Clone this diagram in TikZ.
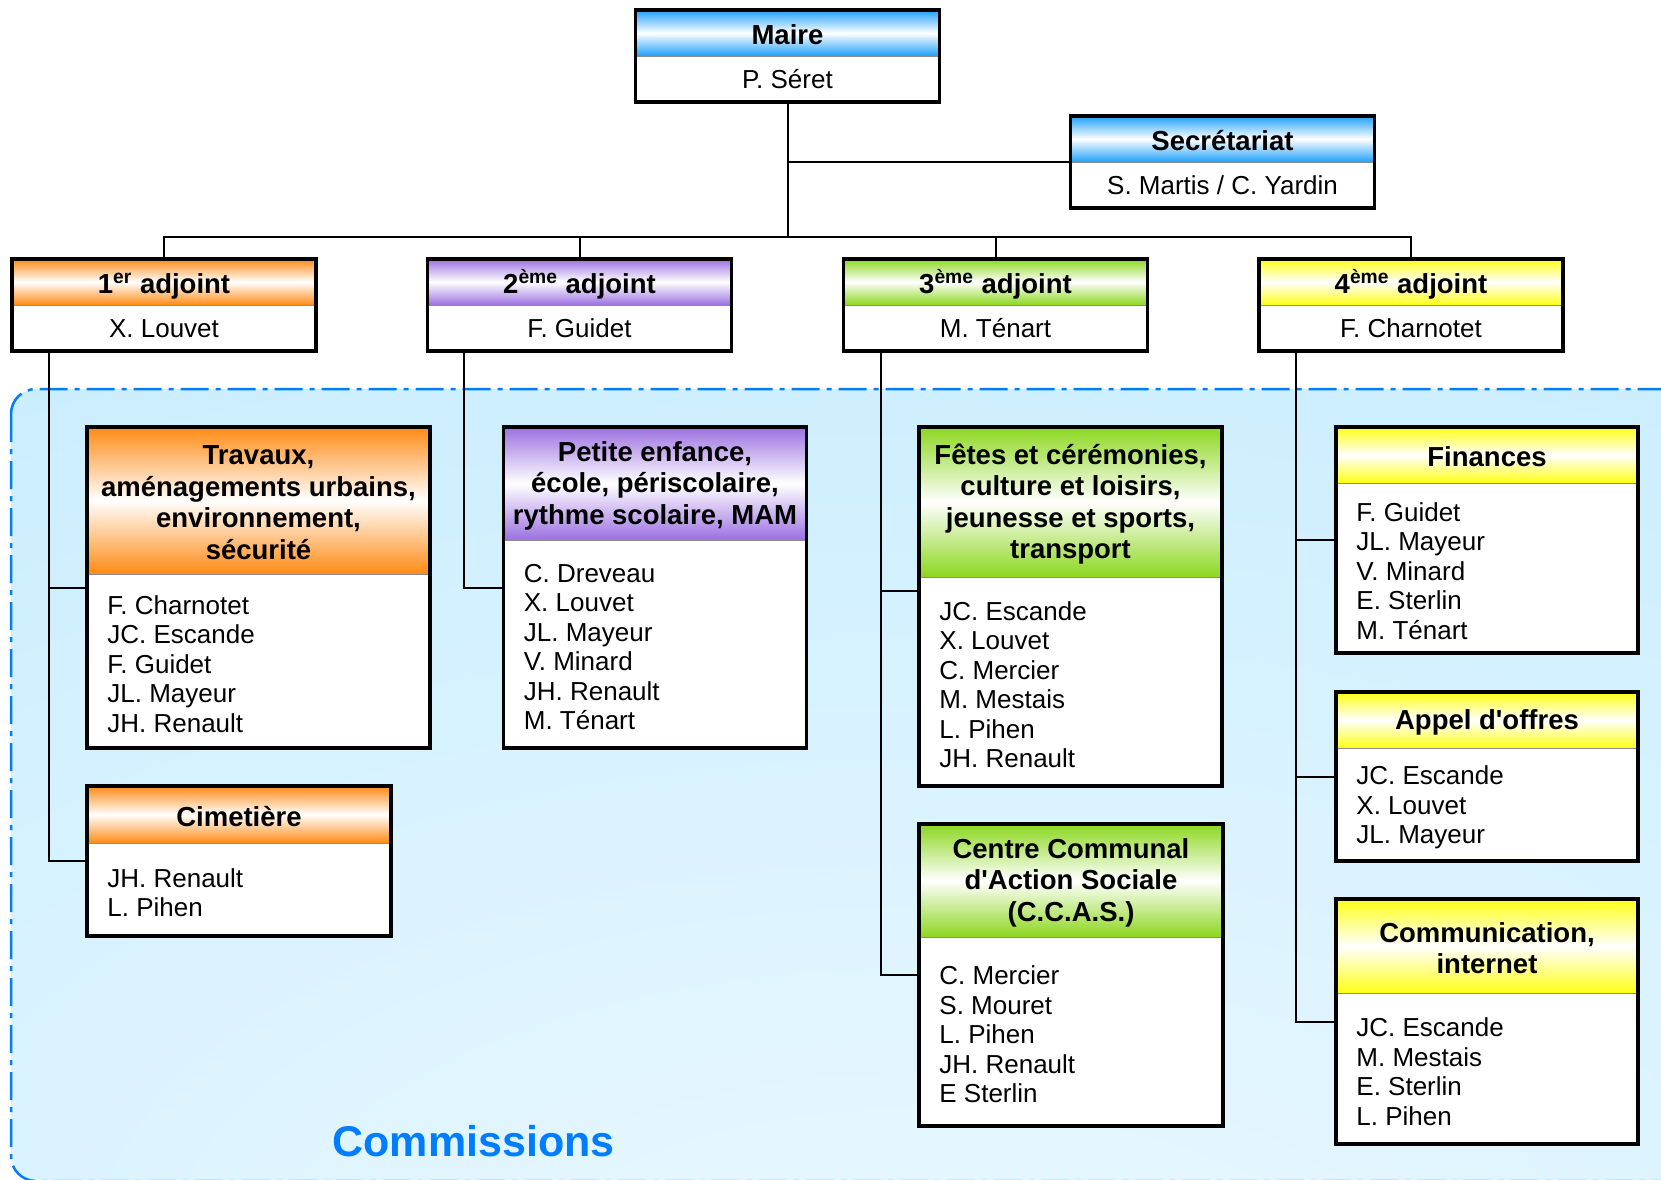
\documentclass[tikz,border=0pt]{standalone}
\usepackage{fontspec}
\setmainfont{Liberation Sans}
\usetikzlibrary{fit,calc}
\definecolor{hblue}{RGB}{30,160,250}
\definecolor{horange}{RGB}{255,138,20}
\definecolor{hpurple}{RGB}{155,112,225}
\definecolor{hgreen}{RGB}{140,215,30}
\definecolor{hyellow}{RGB}{255,255,20}
\definecolor{cblue}{RGB}{0,125,255}
\definecolor{bgA}{RGB}{200,237,255}
\definecolor{bgB}{RGB}{228,246,255}
\pgfdeclareradialshading{bgshade}{\pgfpoint{2bp}{-38bp}}{color(0bp)=(bgB); color(12bp)=(bgB); color(55bp)=(bgA); color(100bp)=(bgA)}
\tikzset{
  hdr/.style={font=\fontsize{13.75}{15.8}\selectfont\bfseries, align=center, inner sep=0pt},
  nm/.style={font=\fontsize{13}{14.75}\selectfont, align=left, inner sep=0pt, anchor=west},
  nmc/.style={font=\fontsize{13}{14.75}\selectfont, align=center, inner sep=0pt, anchor=base},
  boxborder/.style={draw=black, line width=1.6pt, inner sep=0pt},
  divline/.style={draw=black!45, line width=0.5pt},
  conn/.style={draw=black, line width=1pt},
}
\newcommand\sq{\textquotesingle}
\newcommand\pbox[6]{%
  \shade[top color=#4, bottom color=#4, middle color=white] (#2,#3) rectangle ++(304,46);
  \fill[white] (#2,#3+46) rectangle ++(304,46);
  \draw[divline] (#2,#3+46) -- ++(304,0);
  \node[boxborder, fit={(#2,#3) (#2+304,#3+92)}] (#1) {};
  \node[hdr, anchor=base] (#1-t) at (#2+152,#3+34.5) {#5};
  \node[nmc] (#1-n) at (#2+152,#3+78.5) {#6};
}
\newcommand\cbox[9]{%
  \shade[top color=#7, bottom color=#7, middle color=white] (#2,#3) rectangle (#4,#5);
  \fill[white] (#2,#5) rectangle (#4,#6);
  \draw[divline] (#2,#5) -- (#4,#5);
  \node[boxborder, fit={(#2,#3) (#4,#6)}] (#1) {};
  \node[hdr] (#1-t) at ({(#2+#4)/2},{(#3+#5)/2+2}) {#8};
  \node[nm] (#1-n) at (#2+20,{(#5+#6)/2+3}) {#9};
}
\begin{document}
\begin{tikzpicture}[x=0.5pt,y=-0.5pt]
\useasboundingbox (0,0) rectangle (1661,1179);
\begin{scope}
  \clip (0,0) rectangle (1661,1179);
  \shadedraw[shading=bgshade, draw=cblue, line width=1.25pt, rounded corners=12.5pt,
    dash pattern=on 14pt off 3.5pt on 2.5pt off 3.5pt] (11,389) rectangle (1720,1181);
\end{scope}
\node[font=\fontsize{21.5}{24}\selectfont\bfseries, text=cblue, inner sep=0pt] (ctitle) at (473.5,1141) {Commissions};

% top level
\pbox{maire}{635.5}{10}{hblue}{Maire}{P. Séret}
\pbox{sec}{1070.5}{116}{hblue}{Secrétariat}{S. Martis / C. Yardin}
\pbox{a1}{12}{259}{horange}{1\textsuperscript{er} adjoint}{X. Louvet}
\pbox{a2}{427.5}{259}{hpurple}{2\textsuperscript{ème} adjoint}{F. Guidet}
\pbox{a3}{843.5}{259}{hgreen}{3\textsuperscript{ème} adjoint}{M. Ténart}
\pbox{a4}{1259}{259}{hyellow}{4\textsuperscript{ème} adjoint}{F. Charnotet}

% commissions
\cbox{trav}{87}{427}{430}{574}{748}{horange}{Travaux,\\aménagements urbains,\\environnement,\\sécurité}{F. Charnotet\\JC. Escande\\F. Guidet\\JL. Mayeur\\JH. Renault}
\cbox{cim}{87}{786}{391}{843}{936}{horange}{Cimetière}{JH. Renault\\L. Pihen}
\cbox{pet}{503.5}{427}{806.5}{540}{748}{hpurple}{Petite enfance,\\école, périscolaire,\\rythme scolaire, MAM}{C. Dreveau\\X. Louvet\\JL. Mayeur\\V. Minard\\JH. Renault\\M. Ténart}
\cbox{fet}{919}{427}{1222}{577}{786}{hgreen}{Fêtes et cérémonies,\\culture et loisirs,\\jeunesse et sports,\\transport}{JC. Escande\\X. Louvet\\C. Mercier\\M. Mestais\\L. Pihen\\JH. Renault}
\cbox{ccas}{919}{824}{1223}{937}{1126}{hgreen}{Centre Communal\\d\sq Action Sociale\\(C.C.A.S.)}{C. Mercier\\S. Mouret\\L. Pihen\\JH. Renault\\E Sterlin}
\cbox{fin}{1336}{427}{1638}{483}{653}{hyellow}{Finances}{F. Guidet\\JL. Mayeur\\V. Minard\\E. Sterlin\\M. Ténart}
\cbox{app}{1336}{692}{1638}{748}{861}{hyellow}{Appel d\sq offres}{JC. Escande\\X. Louvet\\JL. Mayeur}
\cbox{com}{1336}{899}{1638}{993}{1144}{hyellow}{Communication,\\internet}{JC. Escande\\M. Mestais\\E. Sterlin\\L. Pihen}

% connectors
\coordinate (bus) at (787.5,237);
\draw[conn] (maire.south) -- (bus);
\draw[conn] (maire.south) |- (sec.west);
\draw[conn] (a1.north) |- (bus) -| (a4.north);
\draw[conn] (a2.north) -- (a2.north |- bus);
\draw[conn] (a3.north) -- (a3.north |- bus);

\coordinate (a1d) at ($(a1.south west)+(39,0)$);
\coordinate (a2d) at ($(a2.south west)+(38.5,0)$);
\coordinate (a3d) at ($(a3.south west)+(39,0)$);
\coordinate (a4d) at ($(a4.south west)+(39,0)$);
\draw[conn] (a1d) |- (trav.west);
\draw[conn] (a1d) |- (cim.west);
\draw[conn] (a2d) |- (pet.west);
\draw[conn] (a3d) |- ($(fet.west)+(0,-16)$);
\draw[conn] (a3d) |- (ccas.west);
\draw[conn] (a4d) |- (fin.west);
\draw[conn] (a4d) |- (app.west);
\draw[conn] (a4d) |- (com.west);
\end{tikzpicture}
\end{document}
